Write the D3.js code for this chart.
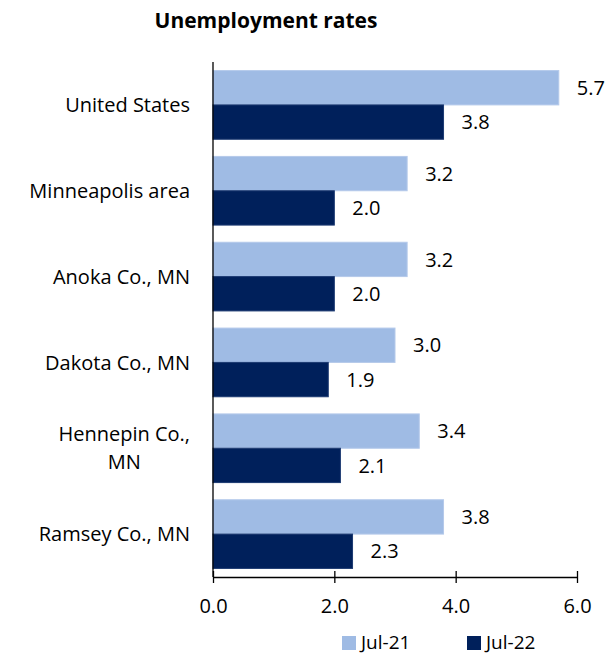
<!DOCTYPE html>
<meta charset="utf-8">
<style>
body { margin: 0; background: #fff; font-family: "Open Sans", "Noto Sans", sans-serif; }
text { fill: #000; }
.axis path, .axis line { stroke: #000; stroke-width: 1.3px; }
</style>
<body>
<script src="https://d3js.org/d3.v7.min.js"></script>
<script>
// chart values
var areas = [["United States"], ["Minneapolis area"], ["Anoka Co., MN"], ["Dakota Co., MN"], ["Hennepin Co.,", "MN"], ["Ramsey Co., MN"]];
var jul21 = [5.7, 3.2, 3.2, 3.0, 3.4, 3.8];
var jul22 = [3.8, 2.0, 2.0, 1.9, 2.1, 2.3];
var seriesNames = ["Jul-21", "Jul-22"];
var xTicks = [0, 2, 4, 6];
var colors = ["#9fbbe4", "#00205b"];

var width = 608, height = 654;
var margin = {top: 62, left: 213, right: 31, bottom: 77};
var fs = "20px";

var svg = d3.select("body").append("svg")
    .attr("width", width)
    .attr("height", height);

svg.append("text")
    .attr("x", 266).attr("y", 28)
    .attr("text-anchor", "middle")
    .style("font-size", "21px")
    .style("font-weight", "bold")
    .text("Unemployment rates");

var x = d3.scaleLinear().domain([0, 6]).range([margin.left, width - margin.right]);
var y = d3.scaleBand().domain(d3.range(areas.length))
    .range([margin.top, height - margin.bottom])
    .paddingInner(0.2).paddingOuter(0.1);
var sub = d3.scaleBand().domain([0, 1]).range([0, y.bandwidth()]);

var series = [jul21, jul22];
series.forEach(function(vals, s) {
  var g = svg.append("g");
  g.selectAll("rect").data(vals).enter().append("rect")
      .attr("x", x(0))
      .attr("y", function(d, i) { return y(i) + sub(s); })
      .attr("width", function(d) { return x(d) - x(0); })
      .attr("height", sub.bandwidth())
      .attr("fill", colors[s])
      .attr("stroke", s == 0 ? "#b4c9ea" : "#1c3a72")
      .attr("stroke-width", 1);
  g.selectAll("text").data(vals).enter().append("text")
      .attr("x", function(d) { return x(d) + 18; })
      .attr("y", function(d, i) { return y(i) + sub(s) + sub.bandwidth() / 2; })
      .attr("dy", "0.36em")
      .style("font-size", fs)
      .text(function(d) { return d.toFixed(1); });
});

// category labels
var labels = svg.append("g");
areas.forEach(function(lines, i) {
  var cy = y(i) + y.bandwidth() / 2;
  if (lines.length == 1) {
    labels.append("text")
        .attr("x", 190).attr("y", cy).attr("dy", "0.36em")
        .attr("text-anchor", "end")
        .style("font-size", fs)
        .text(lines[0]);
  } else {
    var t = labels.append("text")
        .attr("y", cy - 14)
        .attr("text-anchor", "middle")
        .style("font-size", fs);
    lines.forEach(function(l, k) {
      t.append("tspan").attr("x", 0).attr("dy", k == 0 ? "0.36em" : "28px").text(l);
    });
    var w = t.node().getBBox().width;
    t.selectAll("tspan").attr("x", 190 - w / 2);
  }
});

// axes
svg.append("line")
    .attr("x1", x(0)).attr("x2", x(0))
    .attr("y1", margin.top).attr("y2", height - margin.bottom)
    .attr("stroke", "#000").attr("stroke-width", 1.3);

var xAxis = svg.append("g")
    .attr("class", "axis")
    .attr("transform", "translate(0," + (height - margin.bottom) + ")")
    .call(d3.axisBottom(x).tickValues(xTicks).tickSizeInner(6).tickSizeOuter(0)
      .tickFormat(function(d) { return d.toFixed(1); }));
xAxis.selectAll(".tick line").attr("y1", -6);
xAxis.selectAll("text")
    .attr("y", 22)
    .style("font-size", fs)
    .style("font-family", "'Open Sans', 'Noto Sans', sans-serif")
    .attr("fill", "#000");

// legend
var legend = svg.append("g");
var legX = [342, 467];
seriesNames.forEach(function(n, s) {
  legend.append("rect")
      .attr("x", legX[s]).attr("y", 636)
      .attr("width", 14).attr("height", 14)
      .attr("fill", colors[s]);
  legend.append("text")
      .attr("x", legX[s] + 19).attr("y", 642).attr("dy", "0.35em")
      .style("font-size", "19px")
      .text(n);
});
</script>
</body>
